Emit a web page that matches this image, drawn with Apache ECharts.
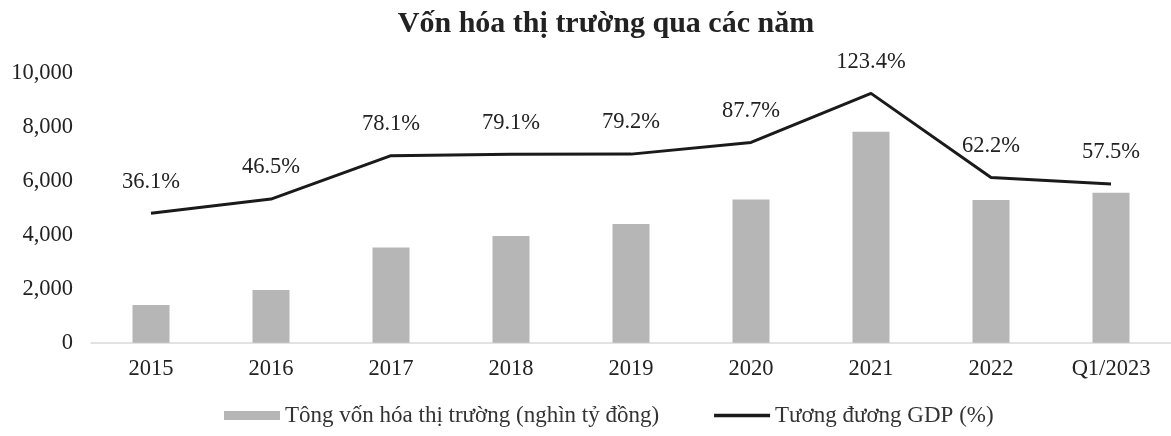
<!DOCTYPE html>
<html><head><meta charset="utf-8">
<script src="https://cdn.jsdelivr.net/npm/echarts@6/dist/echarts.min.js"></script>
<style>html,body{margin:0;padding:0;background:#fff}#c{width:1171px;height:436px}</style>
</head><body><div id="c"></div>
<script>
const categories = ['2015','2016','2017','2018','2019','2020','2021','2022','Q1/2023'];
const marketCap = [1400, 1960, 3530, 3960, 4410, 5320, 7830, 5300, 5570];
const gdpRatio = [36.1, 46.5, 78.1, 79.1, 79.2, 87.7, 123.4, 62.2, 57.5];
const leftTicks = [0, 2000, 4000, 6000, 8000, 10000];

const serif = '"Liberation Serif", "DejaVu Serif", serif';
const chart = echarts.init(document.getElementById('c'), null, {renderer:'canvas'});
chart.setOption({
  animation: false,
  backgroundColor: '#fff',
  title: {
    text: 'Vốn hóa thị trường qua các năm',
    left: 601, top: 4, textAlign: 'center',
    textStyle: {fontFamily: serif, fontSize: 30, fontWeight: 'bold', color: '#222'}
  },
  legend: {
    bottom: 4, left: 219,
    itemWidth: 56, itemHeight: 9, itemGap: 55,
    textStyle: {fontFamily: serif, fontSize: 23, color: '#333'},
    data: [
      {name: 'Tông vốn hóa thị trường (nghìn tỷ đồng)', icon: 'rect'},
      {name: 'Tương đương GDP (%)', icon: 'path://M0,0L100,0L100,6L0,6Z', itemStyle: {color: '#1a1a1a'}}
    ]
  },
  grid: {left: 91, top: 73.3, width: 1089, height: 269.4},
  xAxis: {
    type: 'category', data: categories,
    axisLine: {lineStyle: {color: '#d9d9d9', width: 1.5}},
    axisTick: {show: false},
    axisLabel: {fontFamily: serif, fontSize: 22.5, color: '#222', margin: 15}
  },
  yAxis: [{
    type: 'value', min: 0, max: 10000, interval: 2000,
    splitLine: {show: false}, axisLine: {show: false}, axisTick: {show: false},
    axisLabel: {fontFamily: serif, fontSize: 22.5, color: '#222', margin: 18,
      formatter: v => leftTicks.includes(v) ? v.toLocaleString('en-US') : ''}
  }, {
    type: 'value', min: -58, max: 138, show: false, splitLine: {show: false}
  }],
  series: [{
    name: 'Tông vốn hóa thị trường (nghìn tỷ đồng)',
    type: 'bar', data: marketCap, barWidth: 37,
    itemStyle: {color: '#b6b6b6'}
  }, {
    name: 'Tương đương GDP (%)',
    type: 'line', yAxisIndex: 1, data: gdpRatio,
    symbol: 'circle', symbolSize: 0.1, showSymbol: true,
    lineStyle: {color: '#1a1a1a', width: 3},
    itemStyle: {color: '#1a1a1a'},
    label: {show: true, position: 'top', distance: 20,
      fontFamily: serif, fontSize: 22.5, color: '#222',
      formatter: p => p.value.toFixed(1) + '%'}
  }]
});
</script></body></html>
